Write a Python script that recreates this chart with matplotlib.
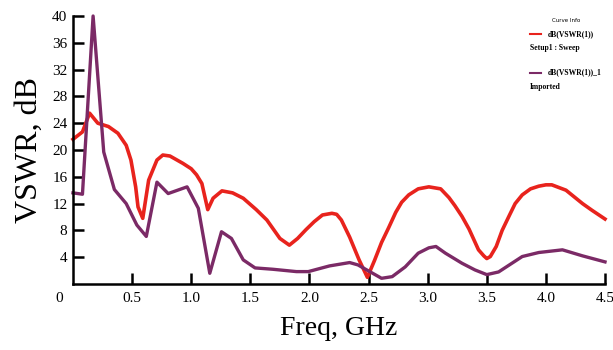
import numpy as np
import matplotlib.pyplot as plt

# данные
red_f = [0, 0.08, 0.14, 0.21, 0.30, 0.38, 0.45, 0.49, 0.53, 0.55, 0.59, 0.64, 0.71, 0.76,
         0.82, 0.93, 1.0, 1.045, 1.09, 1.14, 1.185, 1.26, 1.35, 1.44, 1.55, 1.64, 1.75,
         1.83, 1.90, 1.97, 2.04, 2.11, 2.19, 2.23, 2.27, 2.34, 2.42, 2.49, 2.55, 2.61,
         2.67, 2.73, 2.78, 2.84, 2.92, 3.01, 3.11, 3.18, 3.23, 3.29, 3.35, 3.43, 3.475,
         3.50, 3.53, 3.58, 3.63, 3.69, 3.74, 3.80, 3.87, 3.94, 4.0, 4.05, 4.17, 4.24,
         4.31, 4.39, 4.50]
red_v = [21.6, 22.7, 25.5, 24.0, 23.5, 22.5, 20.7, 18.5, 14.5, 11.5, 9.8, 15.5, 18.5, 19.25,
         19.1, 18.0, 17.2, 16.3, 15.0, 11.1, 12.8, 13.9, 13.6, 12.8, 11.1, 9.55, 6.8,
         5.8, 6.8, 8.1, 9.3, 10.3, 10.55, 10.4, 9.55, 7.0, 3.6, 1.0, 3.5, 6.2,
         8.4, 10.7, 12.2, 13.3, 14.2, 14.5, 14.2, 12.9, 11.7, 10.1, 8.2, 5.1, 4.2,
         3.8, 4.1, 5.6, 8.0, 10.2, 12.0, 13.3, 14.2, 14.6, 14.8, 14.8, 14.0, 13.0,
         12.0, 11.0, 9.7]

purple_f = [0, 0.08, 0.17, 0.26, 0.35, 0.45, 0.54, 0.62, 0.71, 0.805, 0.965, 1.06, 1.157,
            1.256, 1.34, 1.44, 1.54, 1.69, 1.89, 1.99, 2.17, 2.34, 2.41, 2.51, 2.61, 2.70,
            2.81, 2.92, 3.01, 3.07, 3.15, 3.29, 3.40, 3.50, 3.60, 3.80, 3.94, 4.14, 4.31, 4.50]
purple_v = [13.6, 13.4, 40, 19.7, 14.1, 12.0, 8.8, 7.1, 15.2, 13.5, 14.5, 11.3, 1.6,
            7.8, 6.8, 3.6, 2.4, 2.2, 1.85, 1.85, 2.7, 3.2, 2.85, 1.85, 0.85, 1.1,
            2.55, 4.6, 5.4, 5.6, 4.6, 3.1, 2.1, 1.4, 1.8, 4.1, 4.7, 5.1, 4.2, 3.3]

x_ticks = [0.5, 1.0, 1.5, 2.0, 2.5, 3.0, 3.5, 4.0, 4.5]
y_ticks = [4, 8, 12, 16, 20, 24, 28, 32, 36, 40]

red = '#e8231d'
purple = '#7b2a66'
W, H = 613, 350

plt.rcParams['font.family'] = 'Liberation Serif'
fig = plt.figure(figsize=(W / 100, H / 100), dpi=100)
ax = fig.add_axes([73 / W, 1 - 284 / H, 532 / W, 268 / H])

ax.plot(red_f, red_v, color=red, lw=2.6, solid_joinstyle='round', clip_on=False)
ax.plot(purple_f, purple_v, color=purple, lw=2.4, solid_joinstyle='round', clip_on=False)

ax.set_xlim(0, 4.5)
ax.set_ylim(0, 40)
ax.set_xticks(x_ticks)
ax.set_xticklabels([f'{t:.1f}' for t in x_ticks])
ax.set_yticks(y_ticks)
ax.tick_params(direction='in', length=8, width=1.8, labelsize=11, colors='black')
ax.tick_params(axis='x', pad=6)
ax.tick_params(axis='y', pad=4)
for s in ['top', 'right']:
    ax.spines[s].set_visible(False)
for s in ['left', 'bottom']:
    ax.spines[s].set_linewidth(1.8)

# отдельная подпись нуля, сдвинутая влево
ax.text(-0.12, -0.03, '0', transform=ax.get_xaxis_transform(), fontsize=11,
        ha='center', va='top')

ax.set_ylabel('VSWR, dB', fontsize=23, labelpad=6)
ax.set_xlabel('Freq, GHz', fontsize=20, labelpad=8)

# легенда
fig.text(566 / W, 1 - 21 / H, 'Curve Info', fontsize=4, family='DejaVu Sans',
         ha='center', va='center')
fig.add_artist(plt.Line2D([530 / W, 541 / W], [1 - 34 / H] * 2, color=red, lw=1.5))
fig.text(548 / W, 1 - 34 / H, 'dB(VSWR(1))', fontsize=5.5, weight='bold', va='center')
fig.text(530 / W, 1 - 47.5 / H, 'Setup1 : Sweep', fontsize=5.5, weight='bold', va='center')
fig.add_artist(plt.Line2D([530 / W, 541 / W], [1 - 72.5 / H] * 2, color=purple, lw=1.5))
fig.text(548 / W, 1 - 72.5 / H, 'dB(VSWR(1))_1', fontsize=5.5, weight='bold', va='center')
fig.text(530 / W, 1 - 87 / H, 'Imported', fontsize=5.5, weight='bold', va='center')

fig.savefig('out.png', dpi=100)
